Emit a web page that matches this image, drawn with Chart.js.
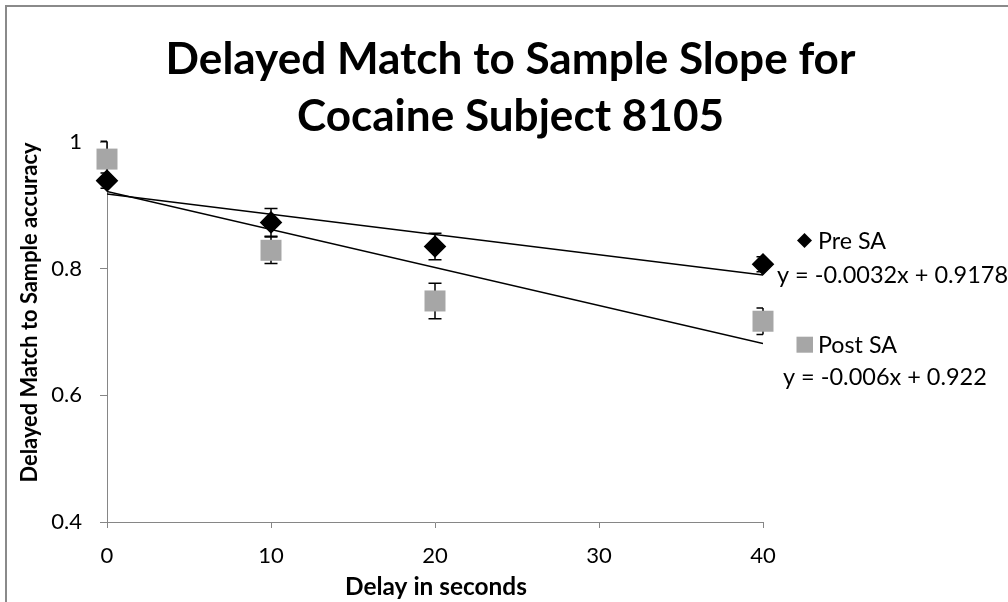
<!DOCTYPE html>
<html><head><meta charset="utf-8">
<script src="https://cdn.jsdelivr.net/npm/chart.js@4.4.1/dist/chart.umd.min.js"></script>
<style>html,body{margin:0;padding:0;background:#fff;} #wrap{position:relative;width:1008px;height:602px;}</style>
</head><body><div id="wrap"><canvas id="c" width="1008" height="602"></canvas></div>
<script>
const titleLines = ['Delayed Match to Sample Slope for', 'Cocaine Subject 8105'];
const xAxisTitle = 'Delay in seconds';
const yAxisTitle = 'Delayed Match to Sample accuracy';
const seriesNames = ['Pre SA', 'Post SA'];
const equations = ['y = -0.0032x + 0.9178', 'y = -0.006x + 0.922'];
const delays = [0, 10, 20, 40];
const preSA = [0.939, 0.873, 0.835, 0.807];
const preErr = [0.012, 0.022, 0.021, 0.012];
const postSA = [0.973, 0.829, 0.749, 0.717];
const postErr = [0.028, 0.021, 0.028, 0.021];
const trendX = [0, 40];
const preTrend = [0.9178, 0.7898];
const postTrend = [0.922, 0.682];
const xTicks = [0, 10, 20, 30, 40];
const yTicks = [0.4, 0.6, 0.8, 1];

const FAM = 'Lato, "Noto Sans", sans-serif';
const mctx = document.createElement('canvas').getContext('2d');
function fit(text, weight, target) {
  mctx.font = weight + ' 100px ' + FAM;
  return 100 * target / mctx.measureText(text).width;
}
const titleSize = fit(titleLines[0], 'bold', 690);
const tickSize = fit('20', 'normal', 25.6);
const xTitleSize = fit(xAxisTitle, 'bold', 182);
const yTitleSize = fit(yAxisTitle, 'bold', 340);
const legSize = fit(seriesNames[1], 'normal', 79);
const eqSize = fit(equations[1], 'normal', 204);

const AXIS = '#868686';
const GRAY = '#A6A6A6';

const decor = {
  id: 'decor',
  beforeDraw(chart) {
    const c = chart.ctx;
    c.save(); c.fillStyle = '#fff'; c.fillRect(0, 0, chart.width, chart.height); c.restore();
  },
  beforeDatasetsDraw(chart) {
    const c = chart.ctx, xs = chart.scales.x, ys = chart.scales.y;
    c.save();
    c.strokeStyle = '#000'; c.lineWidth = 1.5;
    const sets = [[preSA, preErr], [postSA, postErr]];
    sets.forEach(([vals, errs]) => {
      vals.forEach((v, i) => {
        const px = xs.getPixelForValue(delays[i]);
        const top = ys.getPixelForValue(v + errs[i]);
        const bot = ys.getPixelForValue(v - errs[i]);
        const edge = (i === 0 || i === vals.length - 1);
        const l = 6.5, r = edge ? 0 : 6.5;
        c.beginPath();
        c.moveTo(px, top); c.lineTo(px, bot);
        c.moveTo(px - l, top); c.lineTo(px + r, top);
        c.moveTo(px - l, bot); c.lineTo(px + r, bot);
        c.stroke();
      });
    });
    c.restore();
  },
  afterDraw(chart) {
    const c = chart.ctx;
    c.save();
    c.fillStyle = '#000';
    // title
    c.font = 'bold ' + titleSize + 'px ' + FAM;
    c.textAlign = 'center'; c.textBaseline = 'alphabetic';
    c.fillText(titleLines[0], 510.5, 73.5);
    c.fillText(titleLines[1], 510.5, 130.5);
    // x title
    c.font = 'bold ' + xTitleSize + 'px ' + FAM;
    c.fillText(xAxisTitle, 436, 595);
    // y title
    c.save();
    c.translate(37, 312.5); c.rotate(-Math.PI / 2);
    c.font = 'bold ' + yTitleSize + 'px ' + FAM;
    c.fillText(yAxisTitle, 0, 0);
    c.restore();
    // legend
    c.textAlign = 'left';
    c.font = legSize + 'px ' + FAM;
    c.beginPath();
    c.moveTo(804.5, 233); c.lineTo(812, 240.5); c.lineTo(804.5, 248); c.lineTo(797, 240.5); c.closePath();
    c.fill();
    c.fillText(seriesNames[0], 818, 248.5);
    c.fillStyle = GRAY;
    c.fillRect(796.5, 336.7, 16.5, 16);
    c.fillStyle = '#000';
    c.fillText(seriesNames[1], 818, 353);
    c.font = eqSize + 'px ' + FAM;
    c.fillText(equations[0], 777, 283);
    c.fillText(equations[1], 783, 385);
    c.restore();
    // frame (top and left edges visible)
    c.save();
    c.strokeStyle = '#8a8a8a'; c.lineWidth = 2;
    c.strokeRect(6, 6, 1100, 700);
    c.restore();
  }
};

const ctx = document.getElementById('c').getContext('2d');
new Chart(ctx, {
  type: 'scatter',
  data: {
    datasets: [
      { label: seriesNames[0] + ' trend', type: 'line', data: trendX.map((x, i) => ({ x, y: preTrend[i] })),
        borderColor: '#000', borderWidth: 1.5, pointRadius: 0, fill: false, showLine: true, tension: 0 },
      { label: seriesNames[1] + ' trend', type: 'line', data: trendX.map((x, i) => ({ x, y: postTrend[i] })),
        borderColor: '#000', borderWidth: 1.5, pointRadius: 0, fill: false, showLine: true, tension: 0 },
      { label: seriesNames[0], data: delays.map((x, i) => ({ x, y: preSA[i] })),
        pointStyle: 'rectRot', pointRadius: 10.25, pointHoverRadius: 10.25,
        backgroundColor: '#000', borderColor: '#000', borderWidth: 1.5, clip: false },
      { label: seriesNames[1], data: delays.map((x, i) => ({ x, y: postSA[i] })),
        pointStyle: 'rect', pointRadius: 14.85, pointHoverRadius: 14.85,
        backgroundColor: GRAY, borderColor: GRAY, borderWidth: 0, clip: false }
    ]
  },
  options: {
    responsive: false, animation: false, devicePixelRatio: 1,
    layout: { padding: { left: 0, top: 142, right: 245, bottom: 0 } },
    plugins: { legend: { display: false }, tooltip: { enabled: false }, title: { display: false } },
    scales: {
      x: {
        type: 'linear', min: 0, max: 40,
        afterBuildTicks: s => { s.ticks = xTicks.map(v => ({ value: v })); },
        afterFit: s => { s.height = 80; },
        ticks: { font: { family: FAM, size: tickSize }, color: '#000', padding: 15, maxRotation: 0 },
        grid: { display: true, drawOnChartArea: false, drawTicks: true, tickLength: 6, color: AXIS, lineWidth: 1 },
        border: { display: true, color: AXIS, width: 1 }
      },
      y: {
        type: 'linear', min: 0.4, max: 1,
        afterBuildTicks: s => { s.ticks = yTicks.map(v => ({ value: v })); },
        afterFit: s => { s.width = 107; },
        ticks: { font: { family: FAM, size: tickSize }, color: '#000', padding: 18, callback: v => String(+v.toFixed(1)) },
        grid: { display: true, drawOnChartArea: false, drawTicks: true, tickLength: 7, color: AXIS, lineWidth: 1 },
        border: { display: true, color: AXIS, width: 1 }
      }
    }
  },
  plugins: [decor]
});
</script>
</body></html>
